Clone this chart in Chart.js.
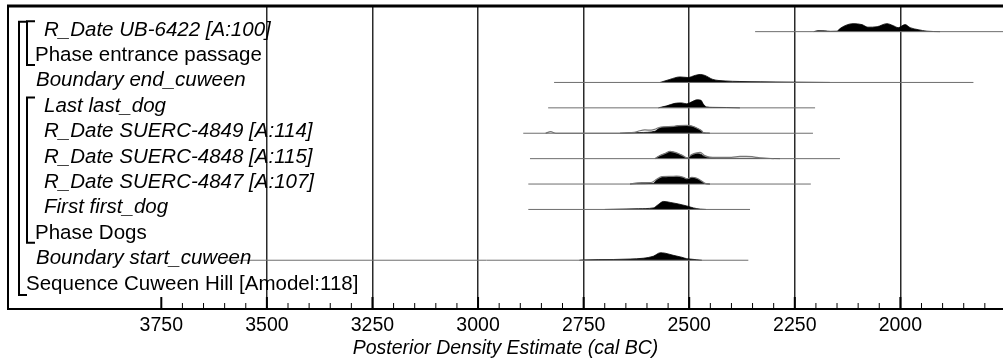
<!DOCTYPE html>
<html>
<head>
<meta charset="utf-8">
<script src="https://cdn.jsdelivr.net/npm/chart.js@4.4.1/dist/chart.umd.min.js"></script>
<style>
  html, body { margin: 0; padding: 0; background: #fff; }
  #wrap { width: 1003px; height: 362px; }
</style>
</head>
<body>
<div id="wrap"><canvas id="oxcal" width="1003" height="362"></canvas></div>
<script>
// Rows, top to bottom
const rowLabels = [
  'R_Date UB-6422 [A:100]',
  'Phase entrance passage',
  'Boundary end_cuween',
  'Last last_dog',
  'R_Date SUERC-4849 [A:114]',
  'R_Date SUERC-4848 [A:115]',
  'R_Date SUERC-4847 [A:107]',
  'First first_dog',
  'Phase Dogs',
  'Boundary start_cuween',
  'Sequence Cuween Hill [Amodel:118]'
];
const rowKinds = ['date', 'phase', 'boundary', 'date', 'date', 'date', 'date', 'date', 'phase', 'boundary', 'sequence'];

// range bars (cal BC)
const rangeFrom = [2344, null, 2820, 2834, 2893, 2877, 2881, 2881, null, 3600, null];
const rangeTo   = [1700, null, 1827, 2202, 2207, 2143, 2212, 2356, null, 2360, null];

// brackets: [first row, last row]
const phaseGroups = [[0, 1], [3, 8]];
const sequenceGroup = [0, 10];

// x axis labels
const tickLabels = [3750, 3500, 3250, 3000, 2750, 2500, 2250, 2000];

// posterior densities (relative, peak ~1)
const ub6422Years = [2205, 2195, 2180, 2165, 2150, 2143, 2131, 2112, 2091, 2077, 2055, 2032, 2017, 2005, 1989, 1977, 1958, 1937, 1906];
const ub6422Post  = [0, 0.12, 0.1, 0.04, 0.06, 0.38, 0.75, 1, 0.88, 0.56, 0.62, 1, 0.75, 0.5, 0.88, 0.5, 0.25, 0.06, 0];

const endCuweenYears = [2569, 2546, 2522, 2503, 2486, 2474, 2463, 2444, 2415, 2380, 2332, 2254, 2167];
const endCuweenPost  = [0, 0.38, 0.69, 0.62, 0.88, 1, 0.88, 0.38, 0.19, 0.12, 0.08, 0.04, 0];

const lastDogYears = [2573, 2553, 2534, 2518, 2506, 2494, 2482, 2472, 2467, 2459, 2444, 2411, 2380];
const lastDogPost  = [0, 0.25, 0.56, 0.62, 0.5, 0.75, 1, 0.94, 0.5, 0.12, 0.06, 0.04, 0];

const s4849Years = [2664, 2617, 2581, 2573, 2561, 2538, 2526, 2506, 2494, 2482, 2470, 2467, 2451];
const s4849Post  = [0, 0.09, 0.25, 0.56, 0.75, 0.81, 0.94, 0.96, 0.88, 0.62, 0.25, 0.06, 0];
const s4849LikeYears = [2840, 2828, 2816, 2664, 2630, 2617, 2605, 2590, 2581, 2573, 2561, 2538, 2526, 2506, 2494, 2482, 2470, 2467, 2451];
const s4849Like      = [0, 0.19, 0, 0, 0.1, 0.31, 0.41, 0.38, 0.5, 0.69, 0.81, 0.85, 0.96, 0.99, 0.9, 0.65, 0.28, 0.09, 0];

const s4848Years = [2581, 2569, 2557, 2545, 2538, 2526, 2514, 2505, 2494, 2482, 2473, 2463, 2451, 2435, 2388, 2325, 2285];
const s4848Post  = [0, 0.38, 0.62, 0.88, 0.81, 0.62, 0.31, 0.06, 0.44, 0.62, 0.56, 0.25, 0.1, 0.06, 0.04, 0.04, 0];
const s4848LikeYears = [2581, 2569, 2557, 2545, 2538, 2526, 2514, 2505, 2494, 2482, 2474, 2463, 2451, 2435, 2400, 2380, 2365, 2351, 2340, 2325, 2300];
const s4848Like      = [0, 0.4, 0.65, 0.9, 0.84, 0.65, 0.34, 0.1, 0.5, 0.72, 0.78, 0.38, 0.19, 0.16, 0.16, 0.28, 0.28, 0.25, 0.15, 0.06, 0];

const s4847Years = [2640, 2624, 2585, 2577, 2565, 2545, 2530, 2514, 2505, 2494, 2482, 2470, 2463, 2451];
const s4847Post  = [0, 0.04, 0.09, 0.5, 0.81, 0.88, 0.94, 0.81, 0.62, 0.81, 0.69, 0.31, 0.06, 0];
const s4847LikeYears = [2640, 2622, 2590, 2577, 2565, 2545, 2530, 2514, 2505, 2494, 2482, 2470, 2463, 2451];
const s4847Like      = [0, 0.16, 0.19, 0.6, 0.94, 0.95, 0.98, 0.85, 0.66, 0.85, 0.72, 0.35, 0.1, 0];

const firstDogYears = [2700, 2680, 2620, 2585, 2573, 2561, 2545, 2526, 2506, 2498, 2490, 2474, 2460];
const firstDogPost  = [0, 0.02, 0.09, 0.19, 0.62, 1, 0.88, 0.69, 0.44, 0.31, 0.19, 0.04, 0];

const startCuweenYears = [2760, 2751, 2680, 2640, 2609, 2585, 2568, 2557, 2538, 2518, 2506, 2498, 2482, 2470];
const startCuweenPost  = [0, 0.04, 0.09, 0.15, 0.25, 0.5, 0.94, 0.88, 0.62, 0.38, 0.19, 0.15, 0.06, 0];

const posteriors = [
  [0, ub6422Years, ub6422Post],
  [2, endCuweenYears, endCuweenPost],
  [3, lastDogYears, lastDogPost],
  [4, s4849Years, s4849Post],
  [5, s4848Years, s4848Post],
  [6, s4847Years, s4847Post],
  [7, firstDogYears, firstDogPost],
  [9, startCuweenYears, startCuweenPost]
];
const likelihoods = [
  [4, s4849LikeYears, s4849Like],
  [5, s4848LikeYears, s4848Like],
  [6, s4847LikeYears, s4847Like]
];

const PEAK = 0.315; // height of a unit density, in rows
const FONT = '"Liberation Sans", Arial, sans-serif';

function curve(row, years, dens) {
  return years.map((yr, i) => ({ x: yr, y: row - dens[i] * PEAK }));
}

const datasets = [];
rowLabels.forEach((lab, i) => {
  if (rangeFrom[i] === null) return;
  datasets.push({
    data: [{ x: rangeFrom[i], y: i }, { x: rangeTo[i], y: i }],
    showLine: true, borderColor: '#6e6e6e', borderWidth: 1, pointRadius: 0, fill: false
  });
});
likelihoods.forEach(([row, yrs, d]) => {
  datasets.push({
    data: curve(row, yrs, d),
    showLine: true, borderColor: '#777', borderWidth: 1.2, pointRadius: 0,
    cubicInterpolationMode: 'monotone', fill: false
  });
});
posteriors.forEach(([row, yrs, d]) => {
  datasets.push({
    data: curve(row, yrs, d),
    showLine: true, borderColor: '#000', borderWidth: 0.8, pointRadius: 0,
    backgroundColor: '#000', cubicInterpolationMode: 'monotone',
    fill: { value: row }
  });
});

const decor = {
  id: 'decor',
  afterDatasetsDraw(chart) {
    const ctx = chart.ctx;
    const area = chart.chartArea;
    const xs = chart.scales.x;
    const ys = chart.scales.y;
    const rowPx = i => ys.getPixelForValue(i);
    ctx.save();
    ctx.strokeStyle = '#000';

    // frame
    ctx.lineWidth = 3;
    ctx.beginPath();
    ctx.moveTo(area.left - 1, area.top);
    ctx.lineTo(area.right, area.top);
    ctx.stroke();
    ctx.lineWidth = 2;
    ctx.beginPath();
    ctx.moveTo(area.left, area.top);
    ctx.lineTo(area.left, area.bottom);
    ctx.stroke();

    // inward tick marks
    xs.ticks.forEach(t => {
      const px = xs.getPixelForValue(t.value);
      const major = t.value % 250 === 0;
      ctx.lineWidth = major ? 2 : 1;
      ctx.beginPath();
      ctx.moveTo(px, area.bottom);
      ctx.lineTo(px, area.bottom - (major ? 12 : 6));
      ctx.stroke();
    });

    // brackets
    ctx.lineWidth = 2;
    const bracket = (x, y1, y2, w) => {
      ctx.beginPath();
      ctx.moveTo(x + w, y1);
      ctx.lineTo(x, y1);
      ctx.lineTo(x, y2);
      ctx.lineTo(x + w, y2);
      ctx.stroke();
    };
    bracket(area.left + 11, rowPx(sequenceGroup[0] - 0.39), rowPx(sequenceGroup[1] + 0.37), 8);
    phaseGroups.forEach(([a, b]) => {
      bracket(area.left + 19, rowPx(a - 0.41), rowPx(b + 0.31), 8);
    });

    // labels
    const indent = { date: 36, boundary: 28, phase: 27, sequence: 18 };
    ctx.fillStyle = '#000';
    ctx.textBaseline = 'alphabetic';
    ctx.textAlign = 'left';
    rowLabels.forEach((lab, i) => {
      const italic = rowKinds[i] === 'date' || rowKinds[i] === 'boundary';
      ctx.font = (italic ? 'italic ' : '') + '20.5px ' + FONT;
      ctx.fillText(lab, area.left + indent[rowKinds[i]], rowPx(i) + 4);
    });
    ctx.restore();
  }
};

new Chart(document.getElementById('oxcal'), {
  type: 'scatter',
  data: { datasets: datasets },
  plugins: [decor],
  options: {
    responsive: false,
    animation: false,
    events: [],
    layout: { padding: { left: 8, right: 0, top: 6, bottom: 0 } },
    plugins: { legend: { display: false }, tooltip: { enabled: false } },
    scales: {
      x: {
        type: 'linear',
        reverse: true,
        min: 1757,
        max: 4113,
        afterBuildTicks: scale => {
          const ticks = [];
          for (let v = 1800; v <= tickLabels[0]; v += 50) ticks.push({ value: v });
          scale.ticks = ticks;
        },
        afterFit: scale => { scale.height = 53; },
        ticks: {
          autoSkip: false,
          maxRotation: 0,
          padding: 5,
          color: '#000',
          font: { family: FONT, size: 19.5 },
          callback: v => tickLabels.includes(v) ? String(v) : ''
        },
        grid: {
          drawTicks: false,
          lineWidth: 1.5,
          color: c => (c.tick && c.tick.value % 250 === 0 && c.tick.value < tickLabels[0]) ? '#2a2a2a' : 'rgba(0,0,0,0)'
        },
        border: { display: true, color: '#000', width: 2 },
        title: {
          display: true,
          text: 'Posterior Density Estimate (cal BC)',
          color: '#000',
          padding: { top: 0, bottom: 2 },
          font: { family: FONT, size: 19.5, style: 'italic' }
        }
      },
      y: {
        type: 'linear',
        display: false,
        reverse: true,
        min: -1.01,
        max: 10.92
      }
    }
  }
});
</script>
</body>
</html>
